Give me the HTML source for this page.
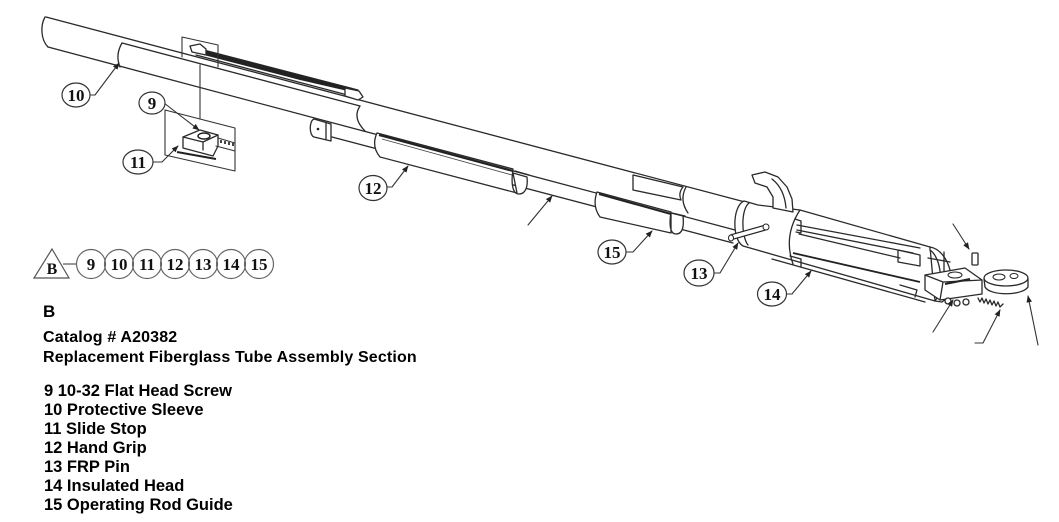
<!DOCTYPE html>
<html><head><meta charset="utf-8">
<style>
html,body{margin:0;padding:0;background:#fff;}
svg{display:block;}
.l{fill:none;stroke:#2a2a2a;stroke-width:1.3;stroke-linecap:round;stroke-linejoin:round}
.w{fill:#fff;stroke:#2a2a2a;stroke-width:1.3;stroke-linecap:round;stroke-linejoin:round}
.d{fill:none;stroke:#333;stroke-width:1.1;stroke-linecap:round;stroke-linejoin:round}
.t{font-family:"Liberation Sans",Arial,sans-serif;font-weight:bold;fill:#000}
.n{font-family:"Liberation Serif","Times New Roman",serif;font-weight:bold;fill:#111;text-anchor:middle;font-size:17px}
.c{fill:#fff;stroke:#333;stroke-width:1.2}
.lc{fill:none;stroke:#666;stroke-width:1.2}
</style></head><body>
<svg width="1059" height="522" viewBox="0 0 1059 522" xmlns="http://www.w3.org/2000/svg">
<defs><marker id="a" viewBox="0 0 10 10" refX="9" refY="5" markerWidth="7" markerHeight="7" markerUnits="userSpaceOnUse" orient="auto"><path d="M0,1 L10,5 L0,9 Z" fill="#222"/></marker></defs>
<rect width="1059" height="522" fill="#fff"/>

<!-- main tube -->
<path class="l" d="M45,17 C40,26 41,40 48,47"/>
<line class="l" x1="46" y1="17" x2="745" y2="202"/>
<line class="l" x1="48" y1="47" x2="735" y2="230"/>
<!-- sleeve 10 -->
<path class="l" d="M122,43 Q115,55 120,67"/>
<line class="l" x1="122" y1="43" x2="360" y2="106"/>
<path class="l" d="M360,106 Q352,118 365,131"/>
<!-- rod -->
<line class="l" x1="332" y1="137" x2="733" y2="243"/>
<path class="w" d="M314,119 L331,124 L331,141 L314,137 C309,135 309,121 314,119 Z"/>
<path class="l" d="M326,123 L326,139"/>
<circle cx="318" cy="129" r="1.3" fill="#222"/>

<!-- slide stop rail on top -->
<line class="l" x1="192" y1="47" x2="358" y2="90"/>
<line class="l" x1="196" y1="55" x2="355" y2="97"/>
<polygon points="200,49 300,75 352,88 352,92 300,80 200,54" fill="#222"/>
<path class="w" d="M190,46 L200,44 L206,49 L206,55 L192,52 Z"/>
<path class="w" d="M345,88 L359,91 L363,97 L358,100 L345,96 Z"/>
<!-- box1 -->
<path class="d" d="M182,57 L182,37 L218,45 L218,67"/>
<line class="d" x1="200" y1="65" x2="200" y2="119"/>
<!-- box2 -->
<path class="d" d="M165,155 L165,110 L235,128 L235,171"/>
<line class="d" x1="165" y1="155" x2="235" y2="171"/>
<path class="w" d="M183,137 L200,130 L218,135 L218,146 L213,156 L183,148 Z"/>
<path class="l" d="M183,137 L203,142 L218,135 M203,142 L203,150"/>
<ellipse cx="204" cy="136" rx="6" ry="3" fill="#fff" stroke="#222" stroke-width="1.5"/>
<line x1="177" y1="152" x2="216" y2="159" stroke="#222" stroke-width="2"/>
<path class="d" d="M218,138 L235,143 M216,146 L235,151"/>
<g fill="#444"><rect x="220" y="140" width="2" height="3"/><rect x="224" y="141" width="2" height="3"/><rect x="228" y="142" width="2" height="3"/><rect x="232" y="143" width="2" height="3"/></g>

<!-- grip 12 -->
<path class="w" d="M377,133 L513,169 C511,182 512,194 519,194 C526,194 528,186 527,177 L513,173 L517,193 L380,157 Q371,146 377,133 Z"/>
<line x1="379" y1="135" x2="513" y2="171" stroke="#222" stroke-width="2.2"/>
<line x1="382" y1="139" x2="512" y2="175" stroke="#444" stroke-width="0.9"/>
<path class="l" d="M515,171 L529,175"/>

<!-- guide 15 -->
<path class="w" d="M597,192 L671,212 C669,225 670,234 676,234 C683,234 684,226 683,216 L671,213 L671,233 L600,217 Q592,206 597,192 Z"/>
<line x1="599" y1="194" x2="671" y2="214" stroke="#222" stroke-width="2"/>
<path class="l" d="M672,213 L685,216"/>

<!-- window & section -->
<path class="l" d="M633,190 L633,175 L683,187 Q678,193 681,200 L633,190"/>
<path class="l" d="M686,187 Q679,200 688,213"/>

<!-- collar + head body -->
<path class="w" d="M744,201 L758,205 L800,210 L930,247 L935,301 L743,246 C732,240 732,206 744,201 Z"/>
<path class="l" d="M749,203 C741,209 741,236 748,245"/>
<!-- hook -->
<polygon class="w" points="752,175 765,172 778,177 787,187 792,199 793,212 773,208 773,197 767,187 755,183"/>
<path class="l" d="M772,179 C781,186 785,196 786,208"/>
<!-- head body details -->
<path class="l" d="M800,210 Q783,236 793,264"/>
<path class="l" d="M795,219 L801,221 L801,233 L796,232"/>
<path class="l" d="M790,256 L801,259 L801,267"/>
<path class="l" d="M797,225 L920,248"/>
<path class="l" d="M797,230 L913,253"/>
<path class="l" d="M799,234 L900,258"/>
<path class="l" d="M898,250 L920,255 L920,266 L898,262 Z"/>
<line x1="793" y1="253" x2="920" y2="282" stroke="#222" stroke-width="1.8"/>
<path class="l" d="M772,259 L925,302"/>
<path class="l" d="M900,285 L917,290 L915,297"/>
<path class="w" d="M930,247 C950,250 960,290 942,302 L935,301 C944,290 942,258 930,250 Z"/>
<path class="l" d="M928,258 L950,262 M930,292 L952,290 M936,274 L956,273 M944,252 L944,298"/>

<!-- pin 13 -->
<line x1="732" y1="237" x2="764" y2="228" stroke="#222" stroke-width="6" stroke-linecap="round"/>
<line x1="732" y1="237" x2="764" y2="228" stroke="#fff" stroke-width="3.6" stroke-linecap="round"/>
<circle cx="766" cy="227" r="3" fill="#fff" stroke="#222" stroke-width="1"/>
<ellipse cx="731" cy="238" rx="2.5" ry="3" fill="#fff" stroke="#222" stroke-width="1"/>

<!-- jaw parts -->
<path class="w" d="M925,275 L965,268 L982,280 L982,294 L940,300 L925,290 Z"/>
<path class="l" d="M925,275 L943,282 L982,280 M943,282 L940,300"/>
<line x1="945" y1="284" x2="970" y2="279" stroke="#222" stroke-width="2"/>
<ellipse cx="955" cy="275" rx="7" ry="3" fill="#fff" stroke="#222" stroke-width="1"/>
<circle cx="948" cy="301" r="3" class="w"/><circle cx="957" cy="303" r="3" class="w"/><circle cx="966" cy="302" r="3" class="w"/>
<path class="w" d="M984,279 L985,287 C990,296 1022,296 1028,287 L1028,279 Z"/>
<ellipse cx="1006" cy="278" rx="22" ry="8" class="w"/>
<ellipse cx="999" cy="277" rx="6" ry="3" fill="#fff" stroke="#222" stroke-width="1"/>
<ellipse cx="1014" cy="276" rx="4" ry="2.5" fill="#fff" stroke="#222" stroke-width="1"/>
<rect x="972" y="253" width="6" height="12" rx="1" class="w"/>
<polyline class="l" points="978,298 980,302 982,298 984,303 986,299 988,304 990,300 992,305 994,301 996,306 998,302 1000,307 1003,304"/>

<!-- leaders -->
<path class="d" d="M90,95 L95,95 L119,63" marker-end="url(#a)"/>
<path class="d" d="M164,103 L199,130" marker-end="url(#a)"/>
<path class="d" d="M152,162 L162,162 L178,146" marker-end="url(#a)"/>
<path class="d" d="M387,187 L392,187 L408,166" marker-end="url(#a)"/>
<path class="d" d="M528,225 L552,196" marker-end="url(#a)"/>
<path class="d" d="M626,252 L633,252 L652,231" marker-end="url(#a)"/>
<path class="d" d="M714,273 L720,273 L738,243" marker-end="url(#a)"/>
<path class="d" d="M786,294 L792,294 L811,271" marker-end="url(#a)"/>
<path class="d" d="M953,224 L969,249" marker-end="url(#a)"/>
<path class="d" d="M933,332 L953,300" marker-end="url(#a)"/>
<path class="d" d="M975,343 L983,343 L1000,310" marker-end="url(#a)"/>
<path class="d" d="M1038,345 L1028,296" marker-end="url(#a)"/>

<!-- callout circles -->
<ellipse class="c" cx="76" cy="95" rx="14" ry="12"/><text class="n" x="76" y="101">10</text>
<ellipse class="c" cx="152" cy="103" rx="13" ry="11"/><text class="n" x="152" y="109">9</text>
<ellipse class="c" cx="138" cy="162" rx="15" ry="12"/><text class="n" x="138" y="168">11</text>
<ellipse class="c" cx="373" cy="188" rx="14" ry="12.5"/><text class="n" x="373" y="194">12</text>
<ellipse class="c" cx="612" cy="252" rx="14" ry="12"/><text class="n" x="612" y="258">15</text>
<ellipse class="c" cx="699" cy="273" rx="15" ry="13"/><text class="n" x="699" y="279">13</text>
<ellipse class="c" cx="772" cy="294" rx="14.5" ry="12"/><text class="n" x="772" y="300">14</text>

<!-- legend row -->
<polygon points="52,249 34,278 69,278" fill="none" stroke="#555" stroke-width="1.2"/>
<text class="n" x="52" y="274" style="font-size:16px">B</text>
<line x1="63" y1="264" x2="77" y2="264" stroke="#555" stroke-width="1.2"/>
<circle class="lc" cx="91" cy="264" r="14.5"/><text class="n" x="91" y="270">9</text>
<circle class="lc" cx="119" cy="264" r="14.5"/><text class="n" x="119" y="270">10</text>
<circle class="lc" cx="147" cy="264" r="14.5"/><text class="n" x="147" y="270">11</text>
<circle class="lc" cx="175" cy="264" r="14.5"/><text class="n" x="175" y="270">12</text>
<circle class="lc" cx="203" cy="264" r="14.5"/><text class="n" x="203" y="270">13</text>
<circle class="lc" cx="231" cy="264" r="14.5"/><text class="n" x="231" y="270">14</text>
<circle class="lc" cx="259" cy="264" r="14.5"/><text class="n" x="259" y="270">15</text>

<!-- text block -->
<text class="t" x="43" y="317" font-size="17">B</text>
<text class="t" x="43" y="342" font-size="16" letter-spacing="0.15">Catalog # A20382</text>
<text class="t" x="43" y="362" font-size="16" letter-spacing="0.15">Replacement Fiberglass Tube Assembly Section</text>
<g class="t" font-size="16.5">
<text x="44" y="396">9 10-32 Flat Head Screw</text>
<text x="44" y="415">10 Protective Sleeve</text>
<text x="44" y="434">11 Slide Stop</text>
<text x="44" y="453">12 Hand Grip</text>
<text x="44" y="472">13 FRP Pin</text>
<text x="44" y="491">14 Insulated Head</text>
<text x="44" y="510">15 Operating Rod Guide</text>
</g>
</svg>
</body></html>
